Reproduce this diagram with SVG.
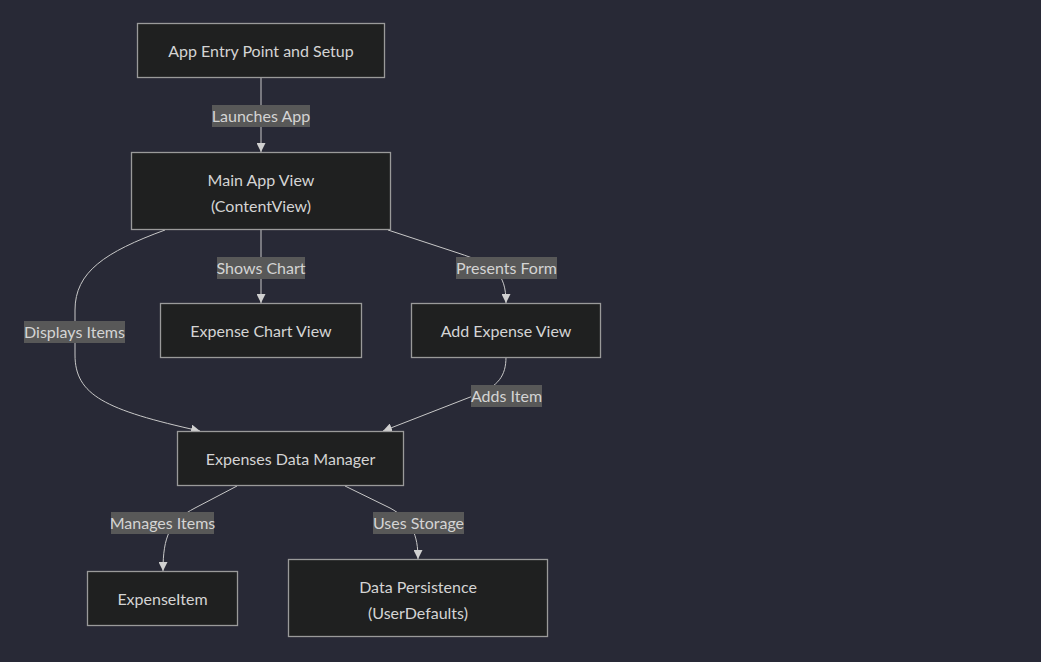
<svg xmlns="http://www.w3.org/2000/svg" width="1041" height="662" viewBox="0 0 1041 662">
  <style>
    .node rect { fill: #1f2020; stroke: #9a9a9a; stroke-width: 1.3; }
    .node text { fill: #d4d4d4; font-family: Lato, "Liberation Sans", sans-serif; font-size: 16px; text-anchor: middle; dominant-baseline: central; }
    .edge { fill: none; stroke: #c8c8c8; stroke-width: 1; }
    .lbl rect { fill: #585858; }
    .lbl text { fill: #d4d4d4; font-family: Lato, "Liberation Sans", sans-serif; font-size: 16px; text-anchor: middle; dominant-baseline: central; }
  </style>
  <defs>
    <marker id="arrow" viewBox="0 0 10 10" refX="10" refY="5" markerWidth="9" markerHeight="9" markerUnits="userSpaceOnUse" orient="auto">
      <path d="M0,0 L10,5 L0,10 z" fill="#d0d0d0"/>
    </marker>
  </defs>
  <rect width="1041" height="662" fill="#282936"/>

  <g id="connectors">
    <path class="edge" d="M261,77 L261,152" marker-end="url(#arrow)"/>
    <path class="edge" d="M261,230 L261,303" marker-end="url(#arrow)"/>
    <path class="edge" d="M388,230 L458,253 C494,265 506,272 506,303" marker-end="url(#arrow)"/>
    <path class="edge" d="M165,230 C105,252 75,272 75,310 L75,355 C75,395 105,410 200,431" marker-end="url(#arrow)"/>
    <path class="edge" d="M506,357 C506,376 498,386 478,394 L383,431" marker-end="url(#arrow)"/>
    <path class="edge" d="M237,486 L195,508 C170,521 163,536 163,571" marker-end="url(#arrow)"/>
    <path class="edge" d="M345,486 L390,508 C412,520 418,535 418,559" marker-end="url(#arrow)"/>

    <g class="lbl"><rect x="212" y="105" width="98" height="22"/><text x="261" y="115">Launches App</text></g>
    <g class="lbl"><rect x="217" y="257" width="88" height="22"/><text x="261" y="267">Shows Chart</text></g>
    <g class="lbl"><rect x="456" y="257" width="101" height="22"/><text x="506.5" y="267">Presents Form</text></g>
    <g class="lbl"><rect x="24" y="321" width="101" height="22"/><text x="74.5" y="331">Displays Items</text></g>
    <g class="lbl"><rect x="471" y="385" width="71" height="22"/><text x="506.5" y="395">Adds Item</text></g>
    <g class="lbl"><rect x="111" y="512" width="103" height="22"/><text x="162.5" y="522">Manages Items</text></g>
    <g class="lbl"><rect x="373" y="512" width="91" height="22"/><text x="418.5" y="522">Uses Storage</text></g>
  </g>

  <g id="entry" class="node"><rect x="137.5" y="23.5" width="247" height="54"/><text x="261" y="50">App Entry Point and Setup</text></g>
  <g id="main" class="node"><rect x="131.5" y="152.5" width="259" height="77"/><text x="261" y="179">Main App View</text><text x="261" y="205">(ContentView)</text></g>
  <g id="chart" class="node"><rect x="160.5" y="303.5" width="201" height="54"/><text x="261" y="330">Expense Chart View</text></g>
  <g id="add" class="node"><rect x="411.5" y="303.5" width="189" height="54"/><text x="506" y="330">Add Expense View</text></g>
  <g id="manager" class="node"><rect x="177.5" y="431.5" width="226" height="54"/><text x="290.5" y="458">Expenses Data Manager</text></g>
  <g id="item" class="node"><rect x="87.5" y="571.5" width="150" height="54"/><text x="162.5" y="598">ExpenseItem</text></g>
  <g id="storage" class="node"><rect x="288.5" y="559.5" width="259" height="77"/><text x="418" y="586">Data Persistence</text><text x="418" y="612">(UserDefaults)</text></g>
</svg>
